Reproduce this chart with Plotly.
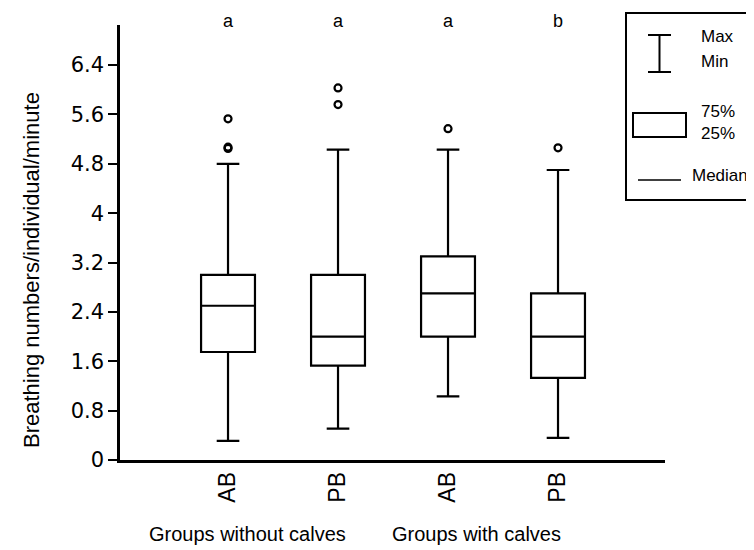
import plotly.graph_objects as go

groups = ["AB", "PB", "AB", "PB"]
xpos = [0, 1, 2, 3]
q1 = [1.75, 1.53, 2.0, 1.33]
median = [2.5, 2.0, 2.7, 2.0]
q3 = [3.0, 3.0, 3.3, 2.7]
lower = [0.31, 0.51, 1.03, 0.36]
upper = [4.8, 5.03, 5.03, 4.7]
outlier_x = [0, 0, 0, 1, 1, 2, 3]
outlier_y = [5.53, 5.05, 5.07, 6.03, 5.76, 5.37, 5.06]
letters = ["a", "a", "a", "b"]
group_labels = ["Groups without calves", "Groups with calves"]
yticks = [0, 0.8, 1.6, 2.4, 3.2, 4, 4.8, 5.6, 6.4]

ARIAL = "Liberation Sans, Arial, sans-serif"
WIDE = "DejaVu Sans, Liberation Sans, sans-serif"

# page has an 8px body margin; figure sized so it ends at the window edge
W, H = 746, 542
# plot area in window pixel coordinates
X0, X1, Y0, Y1 = 120, 665, 25, 460
L, R, T, B = X0 - 8, W - (X1 - 8), Y0 - 8, H - (Y1 - 8)
pw = X1 - X0
ph = Y1 - Y0


def px(xw):
    return (xw - X0) / pw


def py(yw):
    return (Y1 - yw) / ph


fig = go.Figure()
fig.add_trace(go.Box(
    x=xpos, q1=q1, median=median, q3=q3, lowerfence=lower, upperfence=upper,
    fillcolor="white", line=dict(color="black", width=2.2),
    whiskerwidth=0.42, width=0.49, boxpoints=False, showlegend=False,
    hoverinfo="skip",
))
fig.add_trace(go.Scatter(
    x=outlier_x, y=outlier_y, mode="markers",
    marker=dict(symbol="circle-open", size=7, color="black", line=dict(width=2.2)),
    showlegend=False, hoverinfo="skip",
))


def note(x, y, text, size, xref="paper", xanchor="center", yanchor="middle", angle=0):
    fig.add_annotation(x=x, y=y, xref=xref, yref="paper", text=text, textangle=angle,
                       xanchor=xanchor, yanchor=yanchor, showarrow=False,
                       font=dict(family=ARIAL, size=size, color="black"))


# significance letters
for xv, t in zip(xpos, letters):
    note(xv, py(8.5), t, 18, xref="x", yanchor="top")

# y title
note(px(31), py(270), "Breathing numbers/individual/minute", 22, angle=-90)

# group labels
note(px(247), py(534), group_labels[0], 20)
note(px(476), py(534), group_labels[1], 20)

# legend box
shapes = [
    dict(type="rect", xref="paper", yref="paper", x0=px(626), x1=px(770), y0=py(200), y1=py(13),
         line=dict(color="black", width=2), fillcolor="rgba(0,0,0,0)"),
    dict(type="line", xref="paper", yref="paper", x0=px(659.5), x1=px(659.5), y0=py(72), y1=py(35),
         line=dict(color="black", width=2)),
    dict(type="line", xref="paper", yref="paper", x0=px(648), x1=px(671), y0=py(35), y1=py(35),
         line=dict(color="black", width=2)),
    dict(type="line", xref="paper", yref="paper", x0=px(648), x1=px(671), y0=py(72), y1=py(72),
         line=dict(color="black", width=2)),
    dict(type="rect", xref="paper", yref="paper", x0=px(633), x1=px(686), y0=py(137), y1=py(113),
         line=dict(color="black", width=2), fillcolor="white"),
    dict(type="line", xref="paper", yref="paper", x0=px(638), x1=px(681), y0=py(180), y1=py(180),
         line=dict(color="black", width=1.5)),
]
fig.update_layout(shapes=shapes)

for txt, xx, yy in [("Max", 699, 36), ("Min", 699, 61), ("75%", 699, 111), ("25%", 699, 134),
                    ("Median", 690, 175)]:
    note(px(xx), py(yy), txt, 17, xanchor="left")

fig.update_layout(
    width=W, height=H,
    margin=dict(l=L, r=R, t=T, b=B, autoexpand=False),
    plot_bgcolor="white", paper_bgcolor="white",
    xaxis=dict(range=[-0.982, -0.982 + pw / 110.0], tickmode="array", tickvals=xpos, ticktext=groups,
               tickangle=-90, showline=True, linecolor="black", linewidth=2.5,
               ticks="", showgrid=False, zeroline=False, automargin=False,
               tickfont=dict(family=ARIAL, size=23, color="black")),
    yaxis=dict(range=[0, ph / 61.7], tickmode="array", tickvals=yticks,
               ticktext=[("%g" % v) for v in yticks],
               showline=True, linecolor="black", linewidth=2.5,
               ticks="outside", ticklen=9, tickwidth=2, tickcolor="black",
               showgrid=False, zeroline=False, automargin=False,
               tickfont=dict(family=WIDE, size=21, color="black")),
)

fig.write_html("out.html")
